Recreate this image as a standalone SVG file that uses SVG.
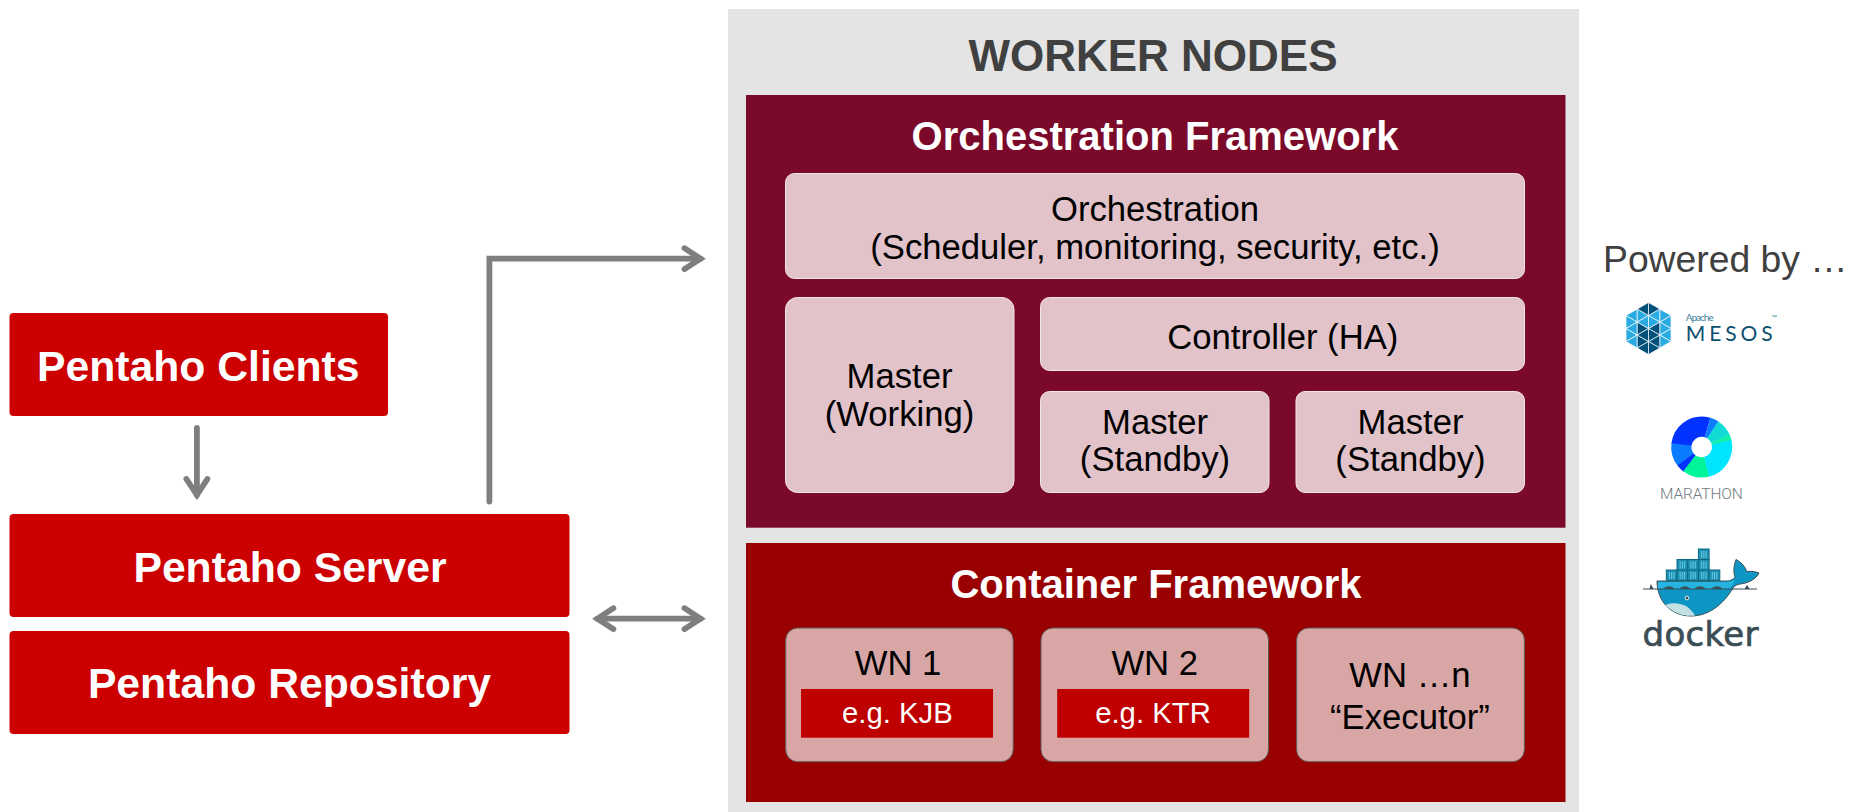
<svg xmlns="http://www.w3.org/2000/svg" xmlns:xlink="http://www.w3.org/1999/xlink" width="1853" height="812" viewBox="0 0 1853 812">
<style>
text{font-family:"Liberation Sans",Arial,sans-serif;text-anchor:middle}
.red{fill:#cc0000}
.rt{font-weight:700;font-size:42.7px;fill:#fff}
.ft{font-weight:700;font-size:40px;fill:#fff}
.oc{fill:#e2c3ca;stroke:#f1e6e8;stroke-width:1}
.wc{fill:#d9a6a6;stroke:#5e5a5a;stroke-width:1}
.bt{font-size:34.67px;fill:#000}
.kt{font-size:29.3px;fill:#fff}
.inner{fill:#bf0000}
.arrow{fill:none;stroke:#7f7f7f;stroke-width:5.8;stroke-linecap:round;stroke-linejoin:miter}
.logo text{text-anchor:start}
.d{fill:#00507a;stroke:#fff;stroke-width:.7}
.l{fill:#29abe2;stroke:#fff;stroke-width:.7}
.seg{fill:none;stroke-width:20.2}
</style>
<defs>
<marker id="head" markerUnits="userSpaceOnUse" viewBox="-22 -16 32 32" refX="0" refY="0" markerWidth="32" markerHeight="32" orient="auto-start-reverse">
<path d="M-16,-10.5L0,0L-16,10.5" fill="none" stroke="#7f7f7f" stroke-width="5.8" stroke-linecap="round" stroke-linejoin="miter" stroke-miterlimit="8"/>
</marker>
<g id="hexhalf">
<polygon class="l" points="-22.5,-13 -22.5,0 -11.25,-6.5"/>
<polygon class="l" points="-22.5,0 -22.5,13 -11.25,6.5"/>
<polygon class="l" points="-11.25,-19.5 -11.25,-6.5 -22.5,-13"/>
<polygon class="l" points="-11.25,-6.5 -11.25,6.5 -22.5,0"/>
<polygon class="l" points="-11.25,6.5 -11.25,19.5 -22.5,13"/>
<polygon class="l" points="-11.25,-19.5 -11.25,-6.5 0,-13"/>
<polygon class="d" points="-11.25,-6.5 -11.25,6.5 0,0"/>
<polygon class="d" points="-11.25,6.5 -11.25,19.5 0,13"/>
<polygon class="d" points="0,-26 0,-13 -11.25,-19.5"/>
<polygon class="l" points="0,-13 0,0 -11.25,-6.5"/>
<polygon class="d" points="0,0 0,13 -11.25,6.5"/>
<polygon class="d" points="0,13 0,26 -11.25,19.5"/>
</g>
<g id="box">
<rect x="0" y="0" width="10.7" height="11" fill="#1d91b4" stroke="#0e6685" stroke-width="1"/>
<path d="M3.2,2V9M5.4,2V9M7.6,2V9" stroke="#6fd0e8" stroke-width=".9"/>
</g>
</defs>
<rect width="1853" height="812" fill="#fff"/>

<g id="worker-nodes">
<rect x="728" y="9" width="851" height="803" fill="#e4e4e4"/>
<text x="1153" y="71" font-weight="700" font-size="44" fill="#404040">WORKER NODES</text>
</g>

<g id="orchestration-framework">
<rect x="746" y="95" width="819.5" height="432.7" fill="#7b0a2a"/>
<text class="ft" x="1155" y="150">Orchestration Framework</text>
</g>
<g id="orchestration">
<rect class="oc" x="785.5" y="173.5" width="739" height="105" rx="9"/>
<text class="bt" x="1155" y="221">Orchestration</text>
<text class="bt" x="1155" y="259">(Scheduler, monitoring, security, etc.)</text>
</g>
<g id="master-working">
<rect class="oc" x="785.5" y="297.5" width="228.5" height="195" rx="12"/>
<text class="bt" x="899.5" y="387.5">Master</text>
<text class="bt" x="899.5" y="425.5">(Working)</text>
</g>
<g id="controller">
<rect class="oc" x="1040.5" y="297.5" width="484" height="73" rx="9"/>
<text class="bt" x="1282.8" y="349">Controller (HA)</text>
</g>
<g id="master-standby-1">
<rect class="oc" x="1040.5" y="391.5" width="228.5" height="101" rx="9"/>
<text class="bt" x="1155" y="434">Master</text>
<text class="bt" x="1155" y="471">(Standby)</text>
</g>
<g id="master-standby-2">
<rect class="oc" x="1296" y="391.5" width="228.5" height="101" rx="9"/>
<text class="bt" x="1410.5" y="434">Master</text>
<text class="bt" x="1410.5" y="471">(Standby)</text>
</g>

<g id="container-framework">
<rect x="746" y="543" width="819.5" height="259" fill="#990000"/>
<text class="ft" x="1156" y="598">Container Framework</text>
</g>
<g id="wn-1">
<rect class="wc" x="785.7" y="628" width="227.5" height="133.7" rx="12"/>
<text class="bt" x="898" y="675">WN 1</text>
<rect class="inner" x="801" y="689" width="192" height="48.7"/>
<text class="kt" x="897.4" y="723">e.g. KJB</text>
</g>
<g id="wn-2">
<rect class="wc" x="1041" y="628" width="227.5" height="133.7" rx="12"/>
<text class="bt" x="1154.7" y="675">WN 2</text>
<rect class="inner" x="1057.2" y="689" width="192" height="48.7"/>
<text class="kt" x="1153" y="723">e.g. KTR</text>
</g>
<g id="wn-n">
<rect class="wc" x="1296.6" y="628" width="227.8" height="133.7" rx="12"/>
<text class="bt" x="1410" y="687">WN …n</text>
<text class="bt" x="1410" y="729">“Executor”</text>
</g>

<g id="pentaho-clients">
<rect class="red" x="9.5" y="313" width="378.5" height="103" rx="4"/>
<text class="rt" x="198.3" y="381">Pentaho Clients</text>
</g>
<g id="pentaho-server">
<rect class="red" x="9.5" y="514" width="560" height="103" rx="4"/>
<text class="rt" x="290" y="581.7">Pentaho Server</text>
</g>
<g id="pentaho-repository">
<rect class="red" x="9.5" y="631" width="560" height="103" rx="4"/>
<text class="rt" x="289.5" y="698">Pentaho Repository</text>
</g>

<g id="connectors">
<path class="arrow" d="M196.9,428V495" marker-end="url(#head)"/>
<path class="arrow" d="M489.4,501.5V258.7H700.5" marker-end="url(#head)"/>
<path class="arrow" d="M597.4,618.7H700.5" marker-start="url(#head)" marker-end="url(#head)"/>
</g>

<g id="powered-by">
<text x="1603" y="271.7" font-size="37.3" fill="#404040" style="text-anchor:start">Powered by …</text>
</g>

<g id="mesos" class="logo">
<g transform="translate(1648.5,328.5)">
<use xlink:href="#hexhalf" href="#hexhalf"/>
<use xlink:href="#hexhalf" href="#hexhalf" transform="scale(-1,1)"/>
</g>
<text x="1685.7" y="320.7" font-size="10" textLength="28" style="font-family:Lato,sans-serif" fill="#3d7f9e">Apache</text>
<text x="1685.7" y="341" font-size="21" font-weight="400" textLength="87" style="font-family:Lato,sans-serif" fill="#0e4f6e">MESOS</text>
<text x="1771" y="319" font-size="6" fill="#3d7f9e">™</text>
</g>

<g id="marathon" class="logo">
<g transform="translate(1701.7,447) rotate(-90)">
<circle class="seg" r="20.4" pathLength="360" stroke="#0a7cff" stroke-dasharray="46 360" transform="rotate(232)"/>
<circle class="seg" r="20.4" pathLength="360" stroke="#0033ff" stroke-dasharray="17 360" transform="rotate(216)"/>
<circle class="seg" r="20.4" pathLength="360" stroke="#00f59b" stroke-dasharray="52 360" transform="rotate(165)"/>
<circle class="seg" r="20.4" pathLength="360" stroke="#00e5ff" stroke-dasharray="90 360" transform="rotate(76)"/>
<circle class="seg" r="20.4" pathLength="360" stroke="#10f0a8" stroke-dasharray="12 360" transform="rotate(65)"/>
<circle class="seg" r="20.4" pathLength="360" stroke="#10dcd5" stroke-dasharray="34 360" transform="rotate(32)"/>
<circle class="seg" r="20.4" pathLength="360" stroke="#0a7cff" stroke-dasharray="16 360" transform="rotate(17)"/>
<circle class="seg" r="20.4" pathLength="360" stroke="#0033ff" stroke-dasharray="100 360" transform="rotate(277)"/>
</g>
<text x="1660" y="498.7" font-size="15.5" font-weight="300" textLength="82.7" style="font-family:Roboto,sans-serif" fill="#6f7a80">MARATHON</text>
</g>

<g id="docker" class="logo">
<use xlink:href="#box" href="#box" x="1698.4" y="549"/>
<use xlink:href="#box" href="#box" x="1677" y="559.5"/>
<use xlink:href="#box" href="#box" x="1687.7" y="559.5"/>
<use xlink:href="#box" href="#box" x="1698.4" y="559.5"/>
<use xlink:href="#box" href="#box" x="1666.3" y="570"/>
<use xlink:href="#box" href="#box" x="1677" y="570"/>
<use xlink:href="#box" href="#box" x="1687.7" y="570"/>
<use xlink:href="#box" href="#box" x="1698.4" y="570"/>
<use xlink:href="#box" href="#box" x="1709.1" y="570"/>
<path d="M1657,581H1726C1731,581 1734,579 1735,577C1733,571 1734,565 1736,559.5C1741,562 1745,566 1746.7,571.5C1751,571 1755,571.5 1759,573C1756,579 1749,583 1740,584C1737,584.5 1735,585.5 1733,588C1726,600 1712,616 1691,616C1672,616 1657,602 1657,581Z" fill="#0d96c4" stroke="#3a4d54" stroke-width="1"/>
<path d="M1658,582H1726C1729,582 1733,581 1735,579C1734,582 1732,585 1730,589H1658Z" fill="#25b5e0"/>
<path d="M1665.5,605C1672,602 1680,603 1686,606C1689,608 1693,612 1695,615.5C1685,617 1673,613 1665.5,605Z" fill="#c3e0e5"/>
<path d="M1643,589H1757M1650,589L1651,585.5L1653,589M1664,589C1667,586.5 1671,586.5 1674,589M1680,589C1683,586.5 1687,586.5 1690,589M1695,589C1698,586.5 1702,586.5 1705,589M1712,589C1715,586.5 1719,586.5 1722,589M1745,589L1747,586L1749,589" fill="#3a4d54" stroke="#3a4d54" stroke-width="1.1"/>
<circle cx="1687" cy="598" r="1.9" fill="#3a4d54" stroke="#d5eef3" stroke-width="1"/>
<text x="1642.5" y="646" font-size="34" textLength="116" stroke="#3a4d54" stroke-width=".7" style="font-family:'DejaVu Sans',sans-serif" fill="#3a4d54">docker</text>
</g>
</svg>
